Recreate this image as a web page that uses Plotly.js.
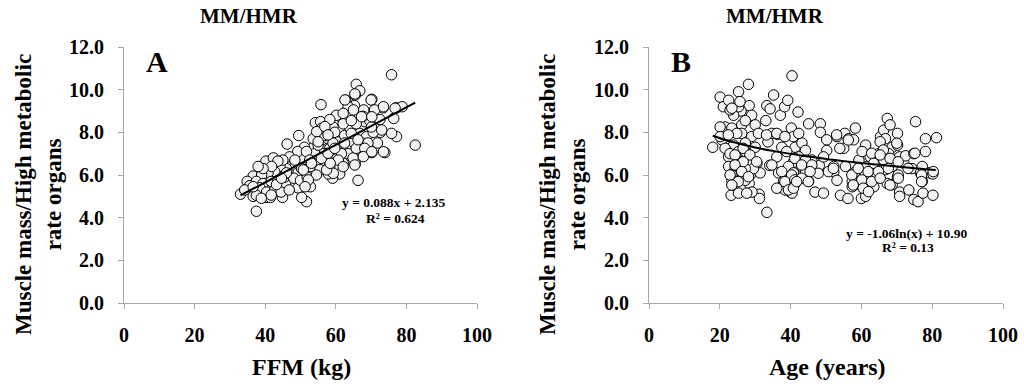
<!DOCTYPE html>
<html>
<head>
<meta charset="utf-8">
<script src="https://cdn.plot.ly/plotly-3.0.1.min.js"></script>
<style>html,body{margin:0;padding:0;background:#fff}#chart{width:1024px;height:387px}</style>
</head>
<body>
<div id="chart"></div>
<script>
// Panel A: FFM (kg) vs MM/HMR
const ffmX = [33.0,37.5,75.8,65.8,66.8,82.5,55.8,46.2,49.5,66.3,51.7,50.3,77.2,73.9,73.4,77.2,78.8,76.4,75.8,70.2,62.8,65.5,65.3,71.8,70.2,72.6,40.2,36.6,44.9,45.8,52.8,49.3,36.6,34.9,40.2,42.3,47.0,53.6,54.2,55.7,55.0,57.4,59.2,61.6,63.0,65.5,61.1,59.1,57.9,54.1,57.0,62.1,64.0,67.9,61.1,59.2,68.2,66.8,68.7,64.9,67.3,67.7,63.5,60.0,58.3,56.4,55.0,52.2,50.3,48.4,46.0,44.2,42.7,40.8,39.0,37.5,39.4,41.7,43.6,45.5,47.4,49.3,51.1,53.6,55.5,38.5,40.4,42.7,44.5,46.8,35.6,34.2,37.5,41.5,48.1,50.0,51.9,52.8,51.1,49.2,46.9,45.0,43.6,54.0,55.9,57.8,59.7,60.7,62.5,64.0,65.8,69.6,70.6,69.1,64.9,60.2,58.3,55.5,65.8,62.1,60.2,58.3,56.9,55.0,63.5,71.0,72.5,64.4,68.2,61.6,57.4,54.5,50.3,46.0,41.8,39.4,38.0,36.6,43.2,48.4,51.7,59.2,62.5,66.3,70.1,67.7,64.4,53.6,52.6,
  65.4,62.6,70.0,73.5,76.8,56.0,54.6,62.1,65.0,67.3,70.2,73.0,59.3,57.4,60.7,58.4,62.1,65.4,67.8,70.2,73.5,50.8,52.2,51.3,38.9,41.7,44.6,53.1,55.9,57.8,59.7,56.9,57.8,55.0];
const ffmY = [5.1,4.3,10.7,10.25,9.95,7.4,9.3,7.45,7.85,5.75,4.75,4.95,7.8,7.05,9.15,9.15,9.2,8.65,7.95,9.55,9.5,9.75,9.25,7.5,7.05,8.0,4.95,5.0,4.95,5.55,5.45,5.4,5.95,5.7,6.65,6.8,6.55,7.3,8.45,8.5,8.05,8.25,7.8,7.3,7.2,6.55,6.05,5.85,6.05,6.6,6.55,6.55,8.9,9.05,8.75,8.25,8.5,7.95,7.8,7.55,7.5,7.0,7.0,7.1,7.25,7.0,6.85,6.85,6.8,6.4,6.3,6.4,6.15,6.1,6.0,5.7,5.6,5.7,5.75,5.9,6.0,6.1,6.25,6.4,6.55,5.4,5.2,5.3,5.2,5.3,5.5,5.3,5.05,4.95,5.85,5.75,5.9,6.4,7.3,7.1,6.85,6.7,6.65,7.0,7.6,7.7,8.0,7.55,7.85,8.2,8.4,8.55,8.0,7.5,6.8,6.75,6.4,6.25,7.25,8.4,8.8,8.6,7.85,7.4,9.2,9.05,8.6,7.95,7.25,7.0,6.8,6.0,6.3,6.1,6.4,6.3,6.4,5.45,5.55,6.7,7.1,7.5,7.5,7.65,8.25,8.75,8.55,7.7,6.7,
  9.8,9.52,9.52,9.2,9.13,8.19,8.03,8.89,9.05,8.73,8.73,8.11,6.08,6.24,6.7,6.55,6.39,6.47,6.86,7.09,7.09,6.24,5.77,5.45,4.91,5.06,5.85,6.55,6.78,7.02,7.25,8.27,7.88,7.56];
const trendAX = [33.0, 82.5];
const trendAY = [5.04, 9.39];

// Panel B: Age (years) vs MM/HMR
const ageX = [18.0,20.1,21.0,22.5,25.3,28.1,28.3,26.0,23.9,21.5,20.1,23.4,26.2,26.2,29.0,30.0,29.0,21.5,23.9,27.2,30.0,22.5,24.3,26.2,27.6,30.5,22.5,24.3,26.2,28.6,31.4,24.3,26.2,28.3,23.2,31.1,31.2,33.3,33.0,33.3,34.2,35.2,33.6,34.7,36.3,36.1,34.1,36.6,37.1,38.3,39.2,40.4,40.2,40.8,42.1,41.3,43.2,44.2,42.3,40.8,39.4,40.8,39.4,38.0,37.3,38.5,39.9,40.4,41.3,43.2,44.2,45.1,45.1,48.4,48.4,46.6,48.1,46.9,49.3,50.2,50.2,49.3,52.2,52.2,53.1,53.1,55.3,55.0,54.1,56.2,56.4,58.3,57.8,57.4,57.4,58.3,59.3,60.2,60.0,61.2,61.2,61.6,62.5,63.5,63.0,62.1,63.5,64.4,64.9,65.4,66.3,67.3,66.8,68.1,68.7,67.7,66.3,66.8,68.7,67.3,68.7,70.2,70.2,70.8,70.2,70.8,70.8,72.0,72.5,73.4,74.3,74.8,75.3,74.8,76.0,76.7,77.2,77.4,78.1,78.1,79.1,80.2,80.2,81.2,77.2,55.5,60.2,20.6,21.5,22.9,25.3,27.2,28.6,29.5,27.2,25.3,23.4,27.2,29.1,25.3,27.6,23.4,24.8,27.2,25.3,22.9,37.5,38.9,42.3,46.0,44.2,
  25.7,23.4,30.9,33.2,36.1,38.4,24.3,26.6,28.5,30.4,26.6,24.3,34.7,37.5,40.3,38.4,41.2,36.1,39.4,40.8,26.2,28.1,25.2,
  53.0,56.3,53.9,41.2,43.1,46.0,50.7,47.8,45.5,43.1,41.7,45.0,52.1,57.3,59.1,60.1,57.7,60.5,62.0,
  65.3,70.0,66.2,75.1,62.9,65.3,68.1,70.4,61.9,64.8,67.6,70.4,73.2,77.0,80.3,62.9,65.3,68.1,70.4,77.0,
  20.1,22.4,22.9,23.4];
const ageY = [7.3,9.65,9.2,9.5,9.9,10.25,9.25,9.0,8.8,8.25,8.25,8.2,8.35,7.95,8.8,8.35,7.8,7.65,7.4,7.5,7.3,6.85,6.95,6.6,6.85,6.55,6.4,6.25,6.1,6.0,6.1,5.55,5.45,5.6,5.05,5.1,4.9,4.25,8.55,9.25,9.1,9.75,7.55,7.95,7.9,6.85,6.45,6.1,8.8,9.2,9.5,10.65,8.2,7.8,8.95,7.3,7.5,7.15,6.85,6.6,6.4,6.1,5.75,5.7,5.4,5.3,5.2,5.15,5.6,6.4,6.1,5.7,8.4,8.4,8.0,6.4,6.45,5.2,5.15,7.65,7.15,6.85,6.4,6.15,5.75,7.8,7.95,7.25,5.05,4.9,7.7,8.2,7.65,5.7,5.45,6.15,6.7,5.45,4.9,5.0,7.4,6.4,6.85,6.55,6.05,5.75,5.45,5.9,7.0,7.8,8.1,8.65,7.7,8.35,7.3,7.0,6.7,6.25,6.4,5.6,5.55,7.95,7.4,6.85,5.9,5.2,5.0,6.55,6.9,5.3,6.3,7.0,8.5,4.85,4.75,6.1,5.7,5.15,7.7,7.1,6.1,6.05,5.05,7.75,6.4,6.4,7.1,7.65,7.25,7.0,7.1,7.1,6.55,6.3,6.3,6.4,6.0,5.75,5.2,5.15,5.15,5.75,7.95,8.55,9.2,9.05,7.3,7.1,7.95,6.7,6.7,
  9.44,9.13,7.95,7.88,7.95,7.8,6.94,7.25,6.94,6.62,6.62,6.47,6.47,6.16,6.0,5.69,5.77,5.38,5.3,5.38,6.16,5.92,5.69,
  7.88,7.64,7.25,6.78,6.47,6.47,6.16,6.08,6.16,5.85,5.69,5.69,6.31,6.0,6.31,5.77,5.53,5.38,5.22,
  7.56,7.49,7.17,7.02,7.02,6.94,6.78,6.62,6.16,6.16,6.31,6.0,6.31,6.0,6.16,5.69,5.85,5.53,5.85,5.69,
  7.8,7.88,6.0,5.53];
const trendBX = [18, 22, 25, 30, 35, 40, 45, 50, 55, 60, 65, 70, 75, 81];
const trendBY = [7.84, 7.62, 7.49, 7.29, 7.13, 6.99, 6.87, 6.75, 6.65, 6.56, 6.48, 6.40, 6.32, 6.24];

const xTicks = [0, 20, 40, 60, 80, 100];
const yTicks = [0, 2, 4, 6, 8, 10, 12];
const yTickText = ['0.0','2.0','4.0','6.0','8.0','10.0','12.0'];

const FONT = 'Liberation Serif, Times New Roman, serif';
const marker = {size: 10.5, color: '#f2f2f2', line: {color: '#000', width: 1}};

const traces = [
  {x: ffmX, y: ffmY, type: 'scatter', mode: 'markers', marker: marker, xaxis: 'x', yaxis: 'y'},
  {x: trendAX, y: trendAY, type: 'scatter', mode: 'lines', line: {color: '#000', width: 2}, xaxis: 'x', yaxis: 'y'},
  {x: ageX, y: ageY, type: 'scatter', mode: 'markers', marker: marker, xaxis: 'x2', yaxis: 'y2'},
  {x: trendBX, y: trendBY, type: 'scatter', mode: 'lines', line: {color: '#000', width: 2, shape: 'spline'}, xaxis: 'x2', yaxis: 'y2'}
];

function xa(domain, anchor) {
  return {domain: domain, anchor: anchor, range: [0, 100], tickvals: xTicks, showgrid: false, zeroline: false,
    showline: true, linecolor: '#a6a6a6', linewidth: 1, ticks: 'outside', ticklen: 5, tickcolor: '#a6a6a6',
    ticklabelstandoff: 9, tickfont: {family: FONT, size: 20, color: '#000', weight: 'bold'}};
}
function ya(anchor) {
  return {domain: [1 - 303/387, 1 - 47/387], anchor: anchor, range: [0, 12], tickvals: yTicks, ticktext: yTickText,
    showgrid: false, zeroline: false, showline: true, linecolor: '#a6a6a6', linewidth: 1, ticks: 'outside',
    ticklen: 5, tickcolor: '#a6a6a6', ticklabelstandoff: 10,
    tickfont: {family: FONT, size: 20, color: '#000', weight: 'bold'}};
}

function ann(text, px, py, size, extra) {
  return Object.assign({text: text, xref: 'paper', yref: 'paper', x: px/1024, y: 1 - py/387,
    xanchor: 'center', yanchor: 'middle', showarrow: false,
    font: {family: FONT, size: size, color: '#000', weight: 'bold'}}, extra || {});
}

const annotations = [
  ann('MM/HMR', 249, 16, 21),
  ann('MM/HMR', 775, 16, 21),
  ann('A', 157, 62, 30),
  ann('B', 681, 62, 30),
  ann('y = 0.088x + 2.135', 393, 202, 13.5),
  ann('R² = 0.624', 395, 218, 13.5),
  ann('y = -1.06ln(x) + 10.90', 906, 233, 13.5),
  ann('R² = 0.13', 908, 248, 13.5),
  ann('FFM (kg)', 301, 367, 24),
  ann('Age (years)', 827, 367, 24),
  ann('Muscle mass/High metabolic<br>rate organs', 38, 195, 23, {textangle: -90}),
  ann('Muscle mass/High metabolic<br>rate organs', 562, 195, 23, {textangle: -90})
];

const layout = {
  width: 1024, height: 387, margin: {l: 0, r: 0, t: 0, b: 0},
  paper_bgcolor: '#fff', plot_bgcolor: '#fff', showlegend: false,
  xaxis: xa([124/1024, 477/1024], 'y'),
  yaxis: ya('x'),
  xaxis2: xa([649/1024, 1003/1024], 'y2'),
  yaxis2: ya('x2'),
  annotations: annotations
};

Plotly.newPlot('chart', traces, layout, {displayModeBar: false, staticPlot: true});
</script>
</body>
</html>
